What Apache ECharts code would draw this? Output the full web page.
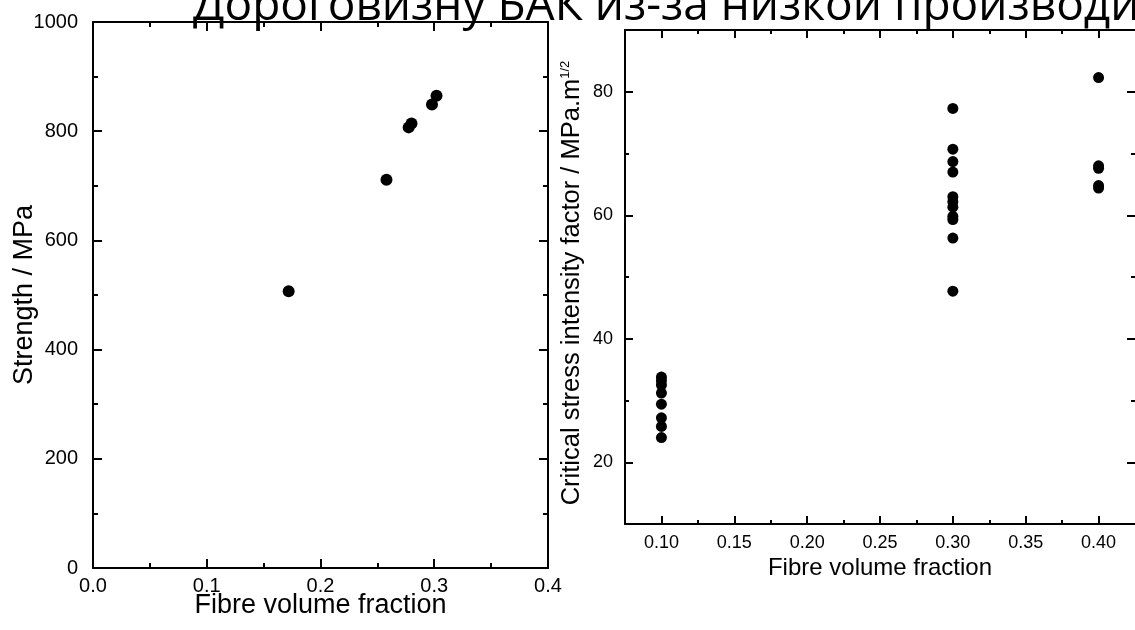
<!DOCTYPE html>
<html>
<head>
<meta charset="utf-8">
<script src="https://cdn.jsdelivr.net/npm/echarts@6/dist/echarts.min.js"></script>
<style>
html,body{margin:0;padding:0;background:#fff;}
#chart{width:1135px;height:630px;}
</style>
</head>
<body>
<div id="chart"></div>
<script>
// ---- data ----
const titleText = 'Дороговизну БАК из-за низкой производи';
const strengthFraction = [0.172, 0.258, 0.2775, 0.280, 0.298, 0.302];
const strengthMPa      = [507,   711,   807,    814,   849,   865];

const kFraction = [0.10,0.10,0.10,0.10,0.10,0.10,0.10,0.10,
                   0.30,0.30,0.30,0.30,0.30,0.30,0.30,0.30,0.30,0.30,0.30,
                   0.40,0.40,0.40,0.40,0.40];
const kValues   = [33.8,33.2,32.5,31.2,29.4,27.2,25.8,24.0,
                   77.3,70.7,68.7,67.0,63.0,62.2,61.3,59.8,59.3,56.3,47.7,
                   82.3,68.0,67.6,64.8,64.4];

const rightXMajor = [0.10,0.15,0.20,0.25,0.30,0.35,0.40];
const rightXMinor = [0.125,0.175,0.225,0.275,0.325,0.375];
const rightYMajor = [20,40,60,80];
const rightYMinor = [30,50,70];

// ---- chart ----
const FONT = '"Liberation Sans", Arial, sans-serif';
const black = '#000';
const chart = echarts.init(document.getElementById('chart'), null, {renderer:'canvas'});

const strengthData = strengthFraction.map((x,i)=>[x, strengthMPa[i]]);
const kData = kFraction.map((x,i)=>[x, kValues[i]]);

const L = {left:93, top:22, width:455, height:546};
const R = {left:625, top:30, width:511, height:494};

function axLine(show){ return {show:show!==false, onZero:false, lineStyle:{color:black, width:2}}; }
function tick(len, custom){
  const t = {show:true, inside:true, length:len, lineStyle:{color:black, width:2}};
  if (custom) t.customValues = custom;
  return t;
}
const minor = {show:true, splitNumber:2, length:5, lineStyle:{color:black, width:2}};

const xAxes = [
  // left plot
  {gridIndex:0, type:'value', position:'bottom', min:0, max:0.4, interval:0.1,
   axisLine:axLine(), splitLine:{show:false}, axisTick:tick(9), minorTick:minor,
   axisLabel:{color:black, fontSize:20, fontFamily:FONT, margin:8, formatter:v=>v.toFixed(1)},
   name:'Fibre volume fraction', nameLocation:'middle', nameGap:24, nameMoveOverlap:false,
   nameTextStyle:{color:black, fontSize:27, fontFamily:FONT, verticalAlign:'top'}},
  {gridIndex:0, type:'value', position:'top', min:0, max:0.4, interval:0.1,
   axisLine:axLine(), splitLine:{show:false}, axisTick:tick(9), minorTick:minor,
   axisLabel:{show:false}},
  // right plot majors
  {gridIndex:1, type:'value', position:'bottom', min:0.075, max:0.425,
   axisLine:axLine(), splitLine:{show:false}, axisTick:tick(8, rightXMajor),
   axisLabel:{color:black, fontSize:18, fontFamily:FONT, margin:10, customValues:rightXMajor, formatter:v=>v.toFixed(2)},
   name:'Fibre volume fraction', nameLocation:'middle', nameGap:32, nameMoveOverlap:false,
   nameTextStyle:{color:black, fontSize:24, fontFamily:FONT, verticalAlign:'top'}},
  {gridIndex:1, type:'value', position:'top', min:0.075, max:0.425,
   axisLine:axLine(), splitLine:{show:false}, axisTick:tick(8, rightXMajor),
   axisLabel:{show:false}},
  // right plot minors
  {gridIndex:2, type:'value', position:'bottom', min:0.075, max:0.425,
   axisLine:axLine(false), splitLine:{show:false}, axisTick:tick(4, rightXMinor),
   axisLabel:{show:false}},
  {gridIndex:2, type:'value', position:'top', min:0.075, max:0.425,
   axisLine:axLine(false), splitLine:{show:false}, axisTick:tick(4, rightXMinor),
   axisLabel:{show:false}}
];

const yAxes = [
  {gridIndex:0, type:'value', position:'left', min:0, max:1000, interval:200,
   axisLine:axLine(), splitLine:{show:false}, axisTick:tick(9), minorTick:minor,
   axisLabel:{color:black, fontSize:20, fontFamily:FONT, margin:15, formatter:v=>String(v)},
   name:'Strength / MPa', nameLocation:'middle', nameGap:55, nameMoveOverlap:false,
   nameTextStyle:{color:black, fontSize:27, fontFamily:FONT}},
  {gridIndex:0, type:'value', position:'right', min:0, max:1000, interval:200,
   axisLine:axLine(), splitLine:{show:false}, axisTick:tick(9), minorTick:minor,
   axisLabel:{show:false}},
  {gridIndex:1, type:'value', position:'left', min:10, max:90,
   axisLine:axLine(), splitLine:{show:false}, axisTick:tick(8, rightYMajor),
   axisLabel:{color:black, fontSize:18, fontFamily:FONT, margin:12, customValues:rightYMajor},
   name:'Critical stress intensity factor / MPa.m{sup|1/2}', nameLocation:'middle', nameGap:40, nameMoveOverlap:false,
   nameTextStyle:{color:black, fontSize:25.5, fontFamily:FONT, padding:[0,12,0,0],
     rich:{sup:{fontSize:13, fontFamily:FONT, color:black, verticalAlign:'top', lineHeight:25}}}},
  {gridIndex:1, type:'value', position:'right', min:10, max:90,
   axisLine:axLine(false), splitLine:{show:false}, axisTick:tick(8, rightYMajor),
   axisLabel:{show:false}},
  {gridIndex:2, type:'value', position:'left', min:10, max:90,
   axisLine:axLine(false), splitLine:{show:false}, axisTick:tick(4, rightYMinor),
   axisLabel:{show:false}},
  {gridIndex:2, type:'value', position:'right', min:10, max:90,
   axisLine:axLine(false), splitLine:{show:false}, axisTick:tick(4, rightYMinor),
   axisLabel:{show:false}}
];

chart.setOption({
  backgroundColor:'#fff',
  animation:false,
  grid:[
    Object.assign({containLabel:false}, L),
    Object.assign({containLabel:false}, R),
    Object.assign({containLabel:false}, R)
  ],
  xAxis:xAxes,
  yAxis:yAxes,
  graphic:[{
    type:'text', left:193, top:-16, z:100,
    style:{text:titleText, fill:black, font:'46px "Open Sans", sans-serif'}
  }],
  series:[
    {type:'scatter', xAxisIndex:0, yAxisIndex:0, data:strengthData, symbol:'circle', symbolSize:12,
     itemStyle:{color:black, opacity:1}},
    {type:'scatter', xAxisIndex:2, yAxisIndex:2, data:kData, symbol:'circle', symbolSize:11,
     itemStyle:{color:black, opacity:1}}
  ]
});
</script>
</body>
</html>
